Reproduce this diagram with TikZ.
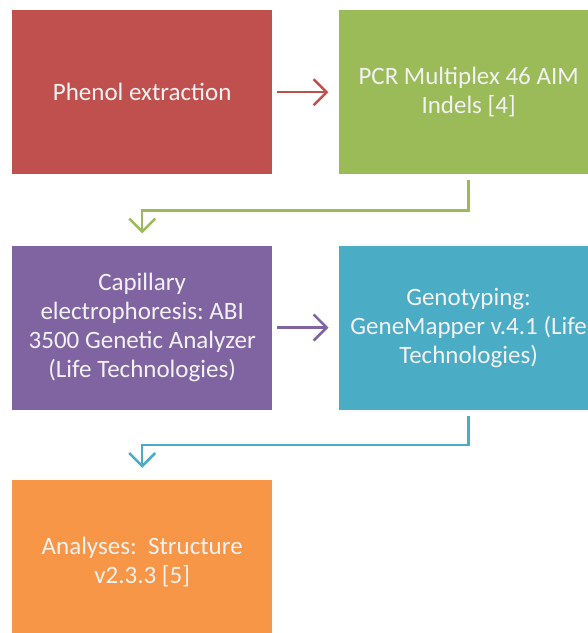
\documentclass[tikz,border=0pt]{standalone}
\usepackage{fontspec}
\setmainfont{Carlito}
\usepackage{xcolor}
\usetikzlibrary{arrows.meta, positioning}
\definecolor{stepred}{HTML}{C0504D}
\definecolor{stepgreen}{HTML}{9BBB59}
\definecolor{steppurple}{HTML}{8064A2}
\definecolor{stepteal}{HTML}{4BACC6}
\definecolor{steporange}{HTML}{F79646}
\frenchspacing
\tikzset{
  stage/.style = {rectangle, fill=#1, text=white!95!black, inner sep=0pt,
                  minimum width=260pt, minimum height=164pt, align=center,
                  font=\fontsize{25}{29}\selectfont},   % one block of the workflow
  flow/.style  = {draw=#1, line width=2.5pt,
                  -{Straight Barb[length=13pt, width=26pt]}}
}

\begin{document}
\begin{tikzpicture}[x=1pt, y=-1pt]
  \useasboundingbox (0,0) rectangle (588,633);
  \clip (0,0) rectangle (588,633);
  % top row
  \node[stage=stepred, anchor=north west] (extract) at (12,10) {Phenol extraction};
  \node[stage=stepgreen, right=66pt of extract] (pcr) {PCR Multiplex 46 AIM\\Indels [4]};
  % middle row
  \node[stage=steppurple, below=71pt of extract] (capillary)
       {Capillary\\electrophoresis: ABI\\3500 Genetic Analyzer\\(Life Technologies)};
  \node[stage=stepteal, right=66pt of capillary] (genotype)
       {Genotyping:\\GeneMapper v.4.1 (Life\\Technologies)};
  % bottom row
  \node[stage=steporange, below=70pt of capillary] (analyses) {Analyses:~ Structure\\v2.3.3 [5]};
  % connectors
  \draw[flow=stepred] ([xshift=5pt]extract.east) -- ([xshift=-10pt]pcr.west);
  \draw[flow=stepgreen] ([yshift=-6pt]pcr.south) -- ++(0,30) -| ([yshift=12pt]capillary.north);
  \draw[flow=steppurple] ([xshift=5pt]capillary.east) -- ([xshift=-10pt]genotype.west);
  \draw[flow=stepteal] ([yshift=-6pt]genotype.south) -- ++(0,29) -| ([yshift=12pt]analyses.north);
\end{tikzpicture}
\end{document}
